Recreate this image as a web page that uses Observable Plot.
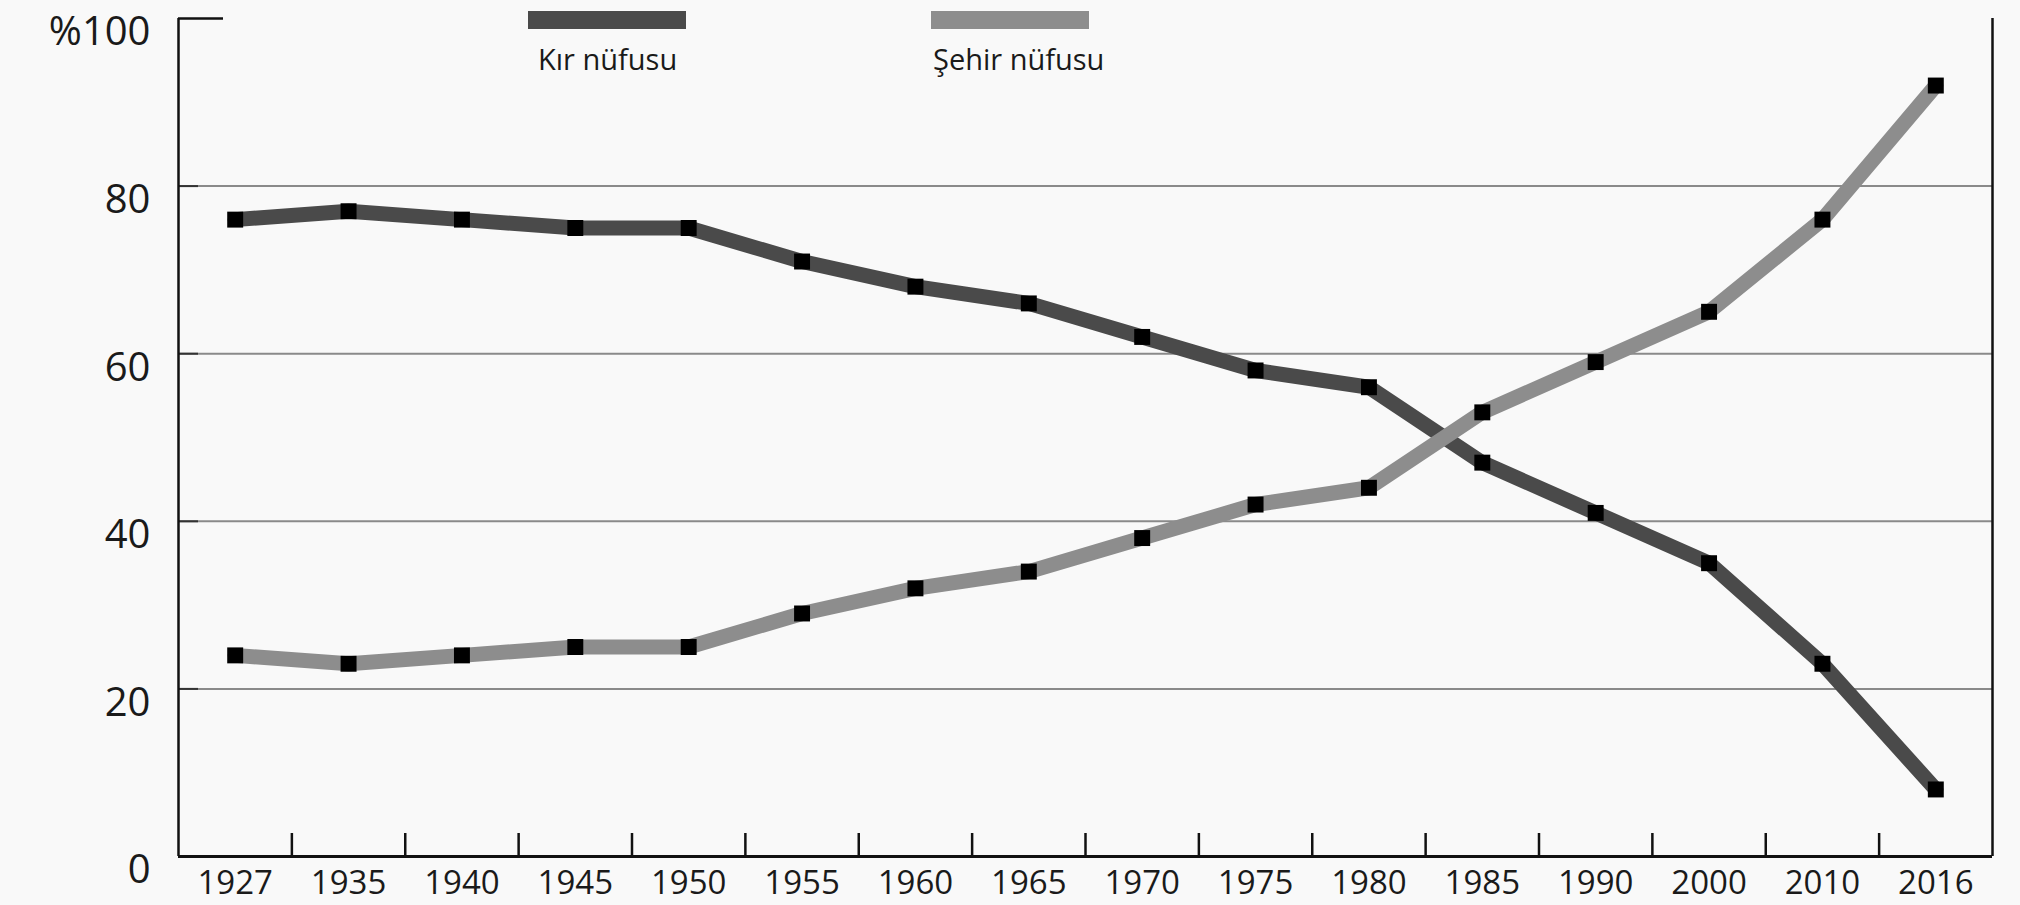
<!DOCTYPE html>
<html>
<head>
<meta charset="utf-8">
<script src="https://cdn.jsdelivr.net/npm/d3@7"></script>
<script src="https://cdn.jsdelivr.net/npm/@observablehq/plot@0.6"></script>
<style>
  html, body { margin: 0; padding: 0; background: #f9f9f9; }
  #wrap { position: relative; width: 2020px; height: 905px; overflow: hidden; }
  .lg-bar { position: absolute; height: 18px; width: 158px; }
  .lg-txt { position: absolute; font-family: "Open Sans", sans-serif; font-size: 29px; line-height: 29px; color: #1a1a1a; white-space: nowrap; }
</style>
</head>
<body>
<div id="wrap"></div>
<script>
// ---- data ----
const years = ["1927","1935","1940","1945","1950","1955","1960","1965","1970","1975","1980","1985","1990","2000","2010","2016"];
const rural = [76,77,76,75,75,71,68,66,62,58,56,47,41,35,23,8];
const urban = [24,23,24,25,25,29,32,34,38,42,44,53,59,65,76,92];
const yTicks = [0,20,40,60,80,100];
const seriesNames = ["Kır nüfusu", "Şehir nüfusu"];
const seriesColors = ["#4a4a4a", "#8d8d8d"];

// ---- layout ----
const W = 2020, H = 905;
const mL = 178, mR = 28, mT = 18, mB = 49;
const innerW = W - mL - mR, innerH = H - mT - mB;

const ruralData = years.map((y, i) => ({i, year: y, v: rural[i]}));
const urbanData = years.map((y, i) => ({i, year: y, v: urban[i]}));
const allPts = ruralData.concat(urbanData);
const idx = d3.range(years.length);
const boundaries = d3.range(years.length - 1).map(i => i + 0.5);
const grid = yTicks.filter(t => t > 0 && t < 100);
const xExt = [-0.5, years.length - 0.5];

const chart = Plot.plot({
  width: W, height: H,
  marginLeft: mL, marginRight: mR, marginTop: mT, marginBottom: mB,
  style: { background: "#f9f9f9", fontFamily: "Open Sans, sans-serif", overflow: "visible" },
  x: { domain: xExt, label: null },
  y: { domain: [0, 100], label: null },
  marks: [
    Plot.ruleY(grid, { stroke: "#8a8a8a", strokeWidth: 2 }),
    Plot.ruleY(grid, { stroke: "#333", strokeWidth: 2, insetRight: innerW - 20 }),
    Plot.ruleY([100], { stroke: "#111", strokeWidth: 2.5, insetRight: innerW - 45 }),
    Plot.tickX(boundaries, { x: d => d, stroke: "#111", strokeWidth: 2.5, insetTop: innerH - 23 }),
    Plot.ruleX(xExt, { stroke: "#111", strokeWidth: 2.5 }),
    Plot.ruleY([0], { stroke: "#111", strokeWidth: 3 }),
    Plot.line(ruralData, { x: "i", y: "v", stroke: seriesColors[0], strokeWidth: 15, strokeLinejoin: "round" }),
    Plot.line(urbanData, { x: "i", y: "v", stroke: seriesColors[1], strokeWidth: 15, strokeLinejoin: "round" }),
    Plot.dot(allPts, { x: "i", y: "v", symbol: "square", r: 9, fill: "#000", stroke: null }),
    Plot.axisX({ ticks: idx, tickFormat: i => years[i], tickSize: 0, tickPadding: 14, fontSize: 33, fontWeight: 500, fill: "#1a1a1a" }),
    Plot.axisY({ ticks: yTicks, tickFormat: d => d === 100 ? "%100" : String(d), tickSize: 0, tickPadding: 28, dy: 14, fontSize: 40, fill: "#1a1a1a" })
  ]
});

const wrap = document.getElementById("wrap");
wrap.appendChild(chart);

// legend (placed over the top of the chart, as in the reference)
const legendPos = [{bar: 528, txt: 538}, {bar: 931, txt: 933}];
seriesNames.forEach((name, k) => {
  const b = document.createElement("div");
  b.className = "lg-bar";
  b.style.left = legendPos[k].bar + "px";
  b.style.top = "11px";
  b.style.background = seriesColors[k];
  wrap.appendChild(b);
  const t = document.createElement("div");
  t.className = "lg-txt";
  t.style.left = legendPos[k].txt + "px";
  t.style.top = "44px";
  t.textContent = name;
  wrap.appendChild(t);
});
</script>
</body>
</html>
